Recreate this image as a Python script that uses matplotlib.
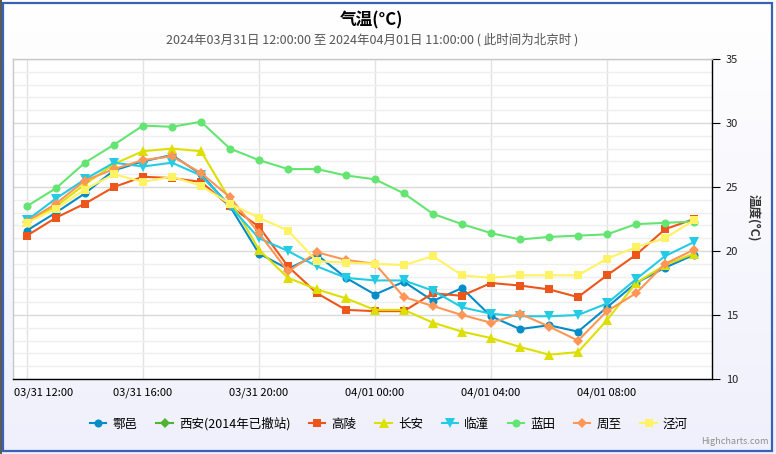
import matplotlib

matplotlib.use("Agg")
import matplotlib.pyplot as plt  # noqa: E402
import matplotlib.transforms as mtransforms  # noqa: E402
import numpy as np  # noqa: E402
from matplotlib.lines import Line2D  # noqa: E402
from matplotlib.patches import Rectangle  # noqa: E402

plt.rcParams["font.family"] = ["Noto Sans CJK SC", "DejaVu Sans"]

# hourly steps from 03/31 12:00 to 04/01 11:00
hours = list(range(24))
tick_hours = [0, 4, 8, 12, 16, 20]
tick_labels = ["03/31 12:00", "03/31 16:00", "03/31 20:00",
               "04/01 00:00", "04/01 04:00", "04/01 08:00"]

names = ["鄠邑", "西安(2014年已撤站)", "高陵", "长安", "临潼", "蓝田", "周至", "泾河"]
colors = ["#058DC7", "#50B432", "#ED561B", "#DDDF00",
          "#24CBE5", "#64E572", "#FF9655", "#FFF263"]
markers = ["o", "D", "s", "^", "v", "o", "D", "s"]
msizes = [5.8, 5.2, 5.8, 6.6, 6.6, 5.8, 5.2, 5.8]

huyi = [21.6, 23.0, 24.5, 26.3, 27.0, 27.5, 26.0, 23.5, 19.8, 18.6, 19.7, 17.9,
        16.6, 17.6, 16.1, 17.1, 14.9, 13.9, 14.2, 13.7, 15.6, 17.5, 18.7, 19.7]
xian = []  # station closed, no readings
gaoling = [21.2, 22.6, 23.7, 25.0, 25.8, 25.7, 25.4, 23.5, 21.9, 18.8, 16.7, 15.4,
           15.3, 15.3, 16.7, 16.5, 17.5, 17.3, 17.0, 16.4, 18.1, 19.7, 21.7, 22.5]
changan = [22.3, 23.5, 25.2, 26.8, 27.8, 28.0, 27.8, 24.0, 20.1, 17.9, 17.0, 16.3,
           15.4, 15.4, 14.4, 13.7, 13.2, 12.5, 11.9, 12.1, 14.6, 17.5, 18.9, 19.8]
lintong = [22.4, 24.1, 25.6, 26.9, 26.6, 26.9, 25.9, 23.5, 21.0, 20.0, 18.8, 17.9,
           17.7, 17.7, 16.9, 15.6, 15.1, 14.9, 14.9, 15.0, 15.9, 17.8, 19.6, 20.7]
lantian = [23.5, 24.9, 26.9, 28.3, 29.8, 29.7, 30.1, 28.0, 27.1, 26.4, 26.4, 25.9,
           25.6, 24.5, 22.9, 22.1, 21.4, 20.9, 21.1, 21.2, 21.3, 22.1, 22.2, 22.3]
zhouzhi = [22.3, 23.7, 25.5, 26.4, 27.1, 27.4, 26.1, 24.2, 21.4, 18.4, 19.9, 19.3,
           19.0, 16.4, 15.7, 15.0, 14.4, 15.1, 14.1, 13.0, 15.3, 16.7, 19.0, 20.1]
jinghe = [22.2, 23.3, 24.8, 26.0, 25.4, 25.8, 25.1, 23.7, 22.6, 21.6, 19.2, 19.1,
          19.0, 18.9, 19.6, 18.1, 17.9, 18.1, 18.1, 18.1, 19.4, 20.3, 21.0, 22.4]
series = [huyi, xian, gaoling, changan, lintong, lantian, zhouzhi, jinghe]

W, H = 776, 454
fig = plt.figure(figsize=(W / 100, H / 100), dpi=100)

# chart background: white -> pale lavender
bg = fig.add_axes([0, 0, 1, 1], zorder=-10)
grad = np.linspace(0, 1, 256)[:, None, None]
top, bot = np.array([1.0, 1.0, 1.0]), np.array([240, 240, 252]) / 255
bg.imshow(top + (bot - top) * grad, aspect="auto", extent=[0, 1, 0, 1])
bg.axis("off")

ax = fig.add_axes([13 / W, 1 - 379 / H, 699 / W, 320 / H])
ax.set_facecolor("white")

for name, vals, c, m, ms in zip(names, series, colors, markers, msizes):
    if vals:
        ax.plot(hours, vals, color=c, lw=1.5, marker=m, markersize=ms,
                markeredgewidth=0, label=name)

ax.set_xlim(-0.48, 23.62)
ax.set_ylim(10, 35)

ax.set_xticks(tick_hours, tick_labels)
ax.tick_params(axis="x", length=0, pad=6, labelsize=8, labelcolor="black")
first = ax.get_xticklabels()[0]
first.set_horizontalalignment("left")
first.set_transform(first.get_transform() +
                    mtransforms.ScaledTranslation(-13 / 100, 0, fig.dpi_scale_trans))

ax.yaxis.tick_right()
ax.set_yticks(range(10, 36, 5))
ax.set_yticks(range(10, 36), minor=True)
ax.tick_params(axis="y", which="major", length=5.8, width=0.8, color="black",
               pad=4, labelsize=8, labelcolor="#222222")
ax.tick_params(axis="y", which="minor", length=0)
ax.grid(axis="y", which="major", color="#d9d9d9", lw=1)
ax.grid(axis="y", which="minor", color="#efefef", lw=1)
ax.grid(axis="x", which="major", color="#e2e2e2", lw=1)
ax.set_axisbelow(True)

for side in ("left", "top"):
    ax.spines[side].set_color("#c8c8c8")
    ax.spines[side].set_linewidth(1)
for side in ("bottom", "right"):
    ax.spines[side].set_color("black")
    ax.spines[side].set_linewidth(1)

fig.text(753 / W, 1 - 218 / H, "温度(°C)", rotation=270, ha="center", va="center",
         fontsize=9, weight="bold", color="#333333")

fig.text(372 / W, 1 - 20 / H, "气温(°C)", ha="center", va="center",
         fontsize=12, weight="bold", color="black")
fig.text(372 / W, 1 - 40 / H,
         "2024年03月31日 12:00:00 至 2024年04月01日 11:00:00 ( 此时间为北京时 )",
         ha="center", va="center", fontsize=9, color="#555555")

handles = [Line2D([], [], color=c, lw=1.5, marker=m, markersize=ms, markeredgewidth=0)
           for c, m, ms in zip(colors, markers, msizes)]
fig.legend(handles, names, loc="center", bbox_to_anchor=(389 / W, 1 - 424 / H),
           ncol=len(names), frameon=False, fontsize=9, handlelength=1.3,
           handletextpad=0.5, columnspacing=1.5)

fig.text(769 / W, 1 - 442 / H, "Highcharts.com", ha="right", va="center",
         fontsize=6.5, color="#909090")

# outer chart border
fig.patches.append(Rectangle((3 / W, 3 / H), 769 / W, 448 / H, transform=fig.transFigure,
                             fill=False, edgecolor="#3a62b4", lw=1.6, zorder=5))
fig.patches.append(Rectangle((0, 0), 2 / W, 1, transform=fig.transFigure,
                             color="#5a5a5a", lw=0, zorder=5))

fig.savefig("out.png", dpi=100)
